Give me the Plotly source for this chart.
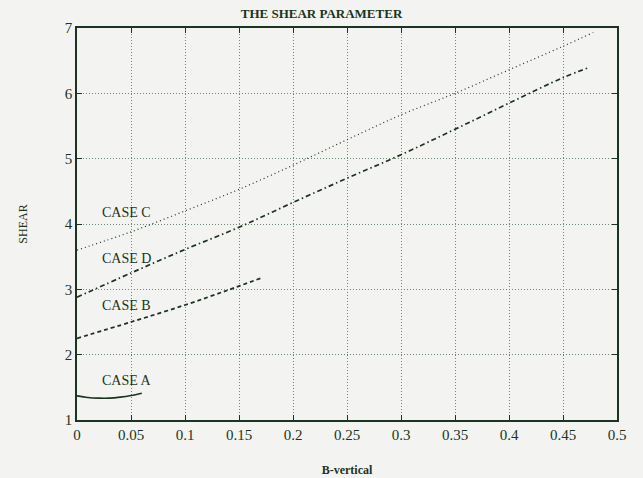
import plotly.graph_objects as go

# ---- data ----
case_a_x = [0.0, 0.01, 0.02, 0.03, 0.04, 0.05, 0.06]
case_a_y = [1.37, 1.345, 1.335, 1.335, 1.35, 1.375, 1.41]

case_b_x = [0.0, 0.05, 0.10, 0.14, 0.17]
case_b_y = [2.25, 2.50, 2.76, 2.99, 3.17]

case_c_x = [0.0, 0.05, 0.10, 0.15, 0.20, 0.25, 0.30, 0.35, 0.40, 0.45, 0.478]
case_c_y = [3.60, 3.88, 4.20, 4.53, 4.90, 5.29, 5.67, 6.00, 6.36, 6.72, 6.93]

case_d_x = [0.0, 0.05, 0.10, 0.15, 0.20, 0.25, 0.30, 0.35, 0.40, 0.45, 0.475]
case_d_y = [2.88, 3.25, 3.61, 3.95, 4.33, 4.70, 5.06, 5.45, 5.85, 6.24, 6.40]

labels = ["CASE C", "CASE D", "CASE B", "CASE A"]
label_x = [0.021, 0.021, 0.021, 0.021]
label_y = [4.17, 3.47, 2.75, 1.60]

x_ticks = [0, 0.05, 0.1, 0.15, 0.2, 0.25, 0.3, 0.35, 0.4, 0.45, 0.5]
x_tick_text = ["0", "0.05", "0.1", "0.15", "0.2", "0.25", "0.3", "0.35", "0.4", "0.45", "0.5"]
y_ticks = [1, 2, 3, 4, 5, 6, 7]

ink = "#1c3322"
grid = "#6f8a72"
font = "Liberation Serif"

fig = go.Figure()
fig.add_trace(go.Scatter(x=case_a_x, y=case_a_y, mode="lines",
                         line=dict(color=ink, width=1.6, shape="spline"), showlegend=False))
fig.add_trace(go.Scatter(x=case_b_x, y=case_b_y, mode="lines",
                         line=dict(color=ink, width=1.8, dash="4px,3px", shape="spline"), showlegend=False))
fig.add_trace(go.Scatter(x=case_c_x, y=case_c_y, mode="lines",
                         line=dict(color=ink, width=1.2, dash="1px,3px", shape="spline"), showlegend=False))
fig.add_trace(go.Scatter(x=case_d_x, y=case_d_y, mode="lines",
                         line=dict(color=ink, width=1.7, dash="5px,3px,1.5px,3px", shape="spline"), showlegend=False))

for t, xx, yy in zip(labels, label_x, label_y):
    fig.add_annotation(x=xx, y=yy, text=t, showarrow=False, xanchor="left", yanchor="middle",
                       font=dict(family=font, size=14, color=ink))

fig.update_layout(
    width=643, height=478,
    margin=dict(l=77, r=26, t=28, b=58),
    paper_bgcolor="#f3f3f1", plot_bgcolor="#f3f3f1",
    title=dict(text="<b>THE SHEAR PARAMETER</b>", x=0.5, xanchor="center", y=0.972, yanchor="middle",
               font=dict(family=font, size=13, color=ink)),
    font=dict(family=font, color=ink),
)
fig.update_xaxes(range=[0, 0.5], tickvals=x_ticks, ticktext=x_tick_text, automargin=False,
                 showline=True, linecolor=ink, linewidth=1.5, mirror="ticks",
                 ticks="inside", ticklen=5, tickcolor=ink,
                 showgrid=True, gridcolor=grid, griddash="1px,2px", gridwidth=1,
                 zeroline=False, tickfont=dict(family=font, size=15, color=ink),
                 title=dict(text="<b>B-vertical</b>", font=dict(family=font, size=12, color=ink), standoff=24))
fig.update_yaxes(range=[1, 7], tickvals=y_ticks, automargin=False,
                 showline=True, linecolor=ink, linewidth=1.5, mirror="ticks",
                 ticks="inside", ticklen=5, tickcolor=ink,
                 showgrid=True, gridcolor=grid, griddash="1px,2px", gridwidth=1,
                 zeroline=False, tickfont=dict(family=font, size=15, color=ink),
                 title=dict(text="SHEAR", font=dict(family=font, size=12, color=ink), standoff=35))

fig.write_html("out.html")
